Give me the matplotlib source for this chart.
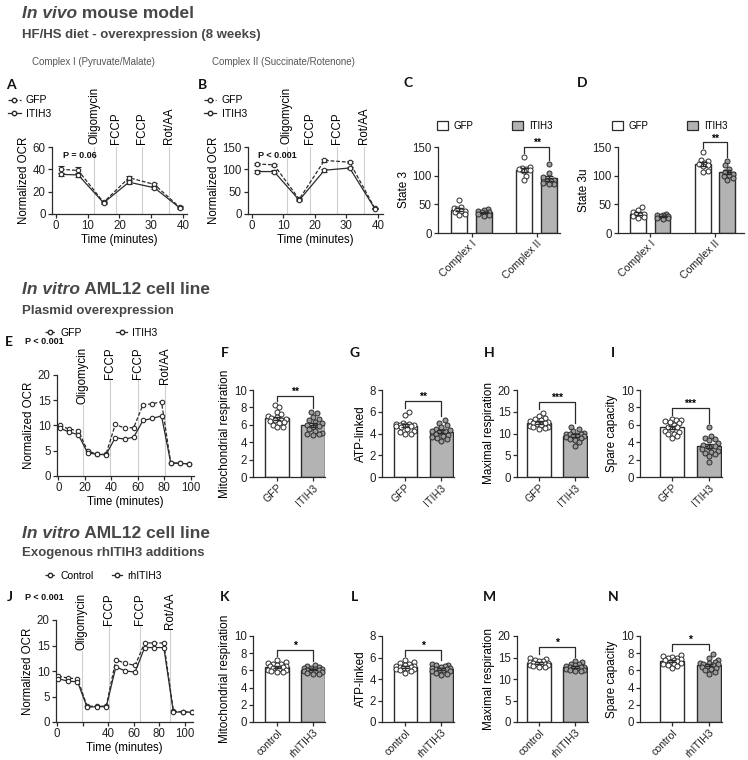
import numpy as np
import matplotlib.pyplot as plt
import matplotlib.transforms as mtransforms
from matplotlib.lines import Line2D
from matplotlib.patches import Patch

plt.rcParams['font.family'] = ['Liberation Sans', 'DejaVu Sans']

# ---------------- data ----------------
# A / B : in vivo OCR traces
t_ab = [1.5, 7, 15, 23, 31, 39]
a_gfp = [40, 39, 10.5, 32.5, 26.5, 6]
a_gfp_err = [3, 3.5, 1, 1.8, 1.5, 0.8]
a_itih3 = [35.5, 35, 10, 28.5, 23.5, 5.5]
a_itih3_err = [1.5, 1.5, 1, 1.2, 1.2, 0.6]
b_gfp = [112, 110, 33, 120, 116, 13]
b_gfp_err = [3, 3, 2, 3, 2, 1]
b_itih3 = [95, 95, 31, 98, 103, 12]
b_itih3_err = [3, 3, 2, 3, 3, 1]
inj_a = [12, 19, 27, 35.5]
inj_b = [11, 18.5, 27, 35.5]
inj_labels = ['Oligomycin', 'FCCP', 'FCCP', 'Rot/AA']

# C / D : state 3 and state 3u
c_ci_gfp = [57, 46, 43, 41, 39, 38, 36, 33, 31]
c_ci_itih3 = [42, 40, 39, 37, 36, 35, 34, 32, 30]
c_cii_gfp = [133, 115, 113, 112, 111, 110, 108, 100, 93]
c_cii_itih3 = [121, 105, 97, 93, 91, 90, 88, 86, 85]
d_ci_gfp = [46, 40, 36, 34, 33, 32, 30, 28, 26]
d_ci_itih3 = [33, 32, 31, 30, 29, 28, 27, 26, 25]
d_cii_gfp = [142, 128, 125, 122, 121, 119, 116, 108, 106]
d_cii_itih3 = [125, 118, 112, 106, 103, 101, 99, 96, 93]
complexes = ['Complex I', 'Complex II']

# E : plasmid overexpression trace
t_e = [1, 8, 15, 22, 29, 36, 43, 50, 57, 64, 71, 78, 85, 92, 99]
e_gfp = [10.0, 9.3, 9.0, 5.0, 4.3, 4.3, 10.2, 9.5, 9.6, 14.1, 14.3, 14.7, 2.6, 2.5, 2.4]
e_itih3 = [9.5, 8.7, 8.2, 4.6, 4.3, 4.2, 7.6, 7.3, 7.7, 11.0, 11.4, 11.9, 2.6, 2.5, 2.4]
inj_e = [18.5, 39, 60, 81]

# F - I
f_gfp = [8.3, 8.0, 7.5, 7.2, 7.0, 6.9, 6.8, 6.7, 6.6, 6.5, 6.4, 6.3, 6.2, 6.0, 5.8, 5.7]
f_itih3 = [7.5, 7.3, 6.9, 6.7, 6.5, 6.3, 6.2, 6.0, 5.9, 5.8, 5.5, 5.3, 5.1, 5.0, 4.9, 4.8]
g_gfp = [6.0, 5.7, 5.0, 4.9, 4.9, 4.8, 4.8, 4.8, 4.7, 4.7, 4.6, 4.4, 4.2, 4.1, 4.0, 4.0]
g_itih3 = [5.2, 5.0, 4.8, 4.6, 4.4, 4.3, 4.2, 4.2, 4.1, 4.0, 3.9, 3.8, 3.7, 3.6, 3.5, 3.3]
h_gfp = [14.8, 14.0, 13.5, 13.3, 13.0, 12.8, 12.7, 12.5, 12.3, 12.2, 12.0, 11.8, 11.6, 11.5, 11.3, 11.1]
h_itih3 = [11.5, 11.0, 10.5, 10.2, 10.0, 9.9, 9.8, 9.6, 9.5, 9.4, 9.2, 9.0, 8.8, 8.6, 8.0, 7.2]
i_gfp = [6.7, 6.6, 6.5, 6.4, 6.3, 6.2, 6.0, 5.8, 5.7, 5.5, 5.3, 5.2, 5.0, 4.9, 4.7, 4.5]
i_itih3 = [5.8, 4.7, 4.5, 4.4, 4.2, 3.9, 3.7, 3.6, 3.5, 3.2, 3.0, 2.9, 2.8, 2.6, 2.4, 1.7]
groups_fi = ['GFP', 'ITIH3']

# J : exogenous rhITIH3 trace
t_j = [1, 8.5, 16, 23.5, 31, 38.5, 46, 53.5, 61, 68.5, 76, 83.5, 91, 98.5, 105.5]
j_ctrl = [9.0, 8.6, 8.5, 3.1, 3.1, 3.1, 12.2, 11.5, 11.1, 15.5, 15.5, 15.5, 2.1, 2.0, 1.9]
j_rh = [8.5, 8.0, 7.9, 2.9, 3.0, 3.0, 10.8, 10.0, 9.8, 14.6, 14.6, 14.6, 1.9, 2.0, 1.9]
inj_j = [19.5, 41, 64.5, 88]

# K - N
k_ctrl = [7.2, 7.0, 6.9, 6.8, 6.7, 6.6, 6.5, 6.5, 6.4, 6.3, 6.2, 6.1, 6.0, 5.9, 5.8, 5.8]
k_rh = [6.6, 6.5, 6.4, 6.3, 6.3, 6.2, 6.2, 6.1, 6.0, 6.0, 5.9, 5.9, 5.8, 5.7, 5.6, 5.6]
l_ctrl = [5.8, 5.6, 5.5, 5.4, 5.3, 5.2, 5.2, 5.1, 5.1, 5.0, 5.0, 4.9, 4.9, 4.8, 4.7, 4.6]
l_rh = [5.4, 5.3, 5.3, 5.2, 5.1, 5.0, 5.0, 4.9, 4.9, 4.8, 4.8, 4.7, 4.7, 4.6, 4.5, 4.4]
m_ctrl = [15.0, 14.7, 14.5, 14.3, 14.1, 14.0, 13.8, 13.7, 13.6, 13.5, 13.4, 13.3, 13.2, 13.0, 12.8, 12.7]
m_rh = [14.3, 14.0, 13.6, 13.4, 13.2, 13.0, 12.9, 12.8, 12.7, 12.6, 12.5, 12.3, 12.2, 12.0, 11.9, 11.8]
n_ctrl = [7.8, 7.7, 7.6, 7.5, 7.4, 7.3, 7.2, 7.2, 7.1, 7.0, 6.9, 6.8, 6.7, 6.6, 6.5, 6.3]
n_rh = [7.9, 7.5, 7.2, 7.0, 6.9, 6.9, 6.8, 6.7, 6.6, 6.5, 6.4, 6.3, 6.2, 6.0, 5.8, 5.6]
groups_kn = ['control', 'rhITIH3']

# ---------------- drawing ----------------
W, H = 748, 760
INK = '#2b2b2b'
GREY = '#b3b3b3'
DOT_GREY = '#9c9c9c'
VL = '#cfcfcf'
HEAD = '#474747'

fig = plt.figure(figsize=(W / 100, H / 100), dpi=100)
renderer = fig.canvas.get_renderer()


def fx(x):
    return x / W


def fy(y):
    return 1 - y / H


def add_ax(l, t, r, b):
    return fig.add_axes([fx(l), fy(b), (r - l) / W, (b - t) / H])


def clean(ax, fs):
    ax.spines[['top', 'right']].set_visible(False)
    ax.spines[['left', 'bottom']].set_color(INK)
    ax.spines[['left', 'bottom']].set_linewidth(0.9)
    ax.tick_params(length=3, width=0.9, color=INK, labelsize=fs, pad=1.5, labelcolor='#222222')


def heading(y, ital, rest, size):
    t1 = fig.text(fx(22), fy(y), ital, fontsize=size, fontweight='bold',
                  fontstyle='italic', color=HEAD, va='center')
    x1 = t1.get_window_extent(renderer).x1
    fig.text(x1 / fig.bbox.width, fy(y), rest, fontsize=size, fontweight='bold', color=HEAD, va='center')


def sub(y, s):
    fig.text(fx(22), fy(y), s, fontsize=9.5, fontweight='bold', color=HEAD, va='center')


def letter(x, y, s):
    fig.text(fx(x), fy(y), s, fontsize=10, fontweight='bold', family=['Lato', 'DejaVu Sans'],
             ha='center', va='center', color='#111111')


def pval(x, y, s):
    fig.text(fx(x), fy(y), s, fontsize=6.5, fontweight='bold', va='center', color='#111111')


def trace_panel(box, t, s1, s2, e1, e2, xlim, ylim, yticks, xticks, xticklabels, inj, label_top=None):
    ax = add_ax(*box)
    clean(ax, 8.3)
    ax.set_xlim(xlim)
    ax.set_ylim(ylim)
    ax.set_xticks(xticks)
    ax.set_xticklabels(xticklabels)
    ax.set_yticks(yticks)
    ax.set_ylabel('Normalized OCR', fontsize=8.3, labelpad=2)
    ax.set_xlabel('Time (minutes)', fontsize=8.3, labelpad=1)
    for x, lab in zip(inj, inj_labels):
        if label_top is None:
            ax.axvline(x, color=VL, lw=0.8, zorder=0)
            tr = mtransforms.offset_copy(ax.get_xaxis_transform(), fig=fig, y=3, units='dots')
            ax.text(x, 1, lab, transform=tr, rotation=90, ha='center', va='bottom', fontsize=8.3)
        else:
            ax.vlines(x, 0, label_top, color=VL, lw=0.8, zorder=0, clip_on=False)
            ax.text(x, label_top, lab, rotation=90, ha='center', va='top', fontsize=8.3, zorder=5,
                    bbox=dict(fc='white', ec='none', pad=0.5))
    for s, e, ls in [(s1, e1, (0, (3, 1.5))), (s2, e2, '-')]:
        ax.plot(t, s, ls=ls, color=INK, lw=0.9, marker='o', ms=3.2, mfc='white', mec=INK, mew=0.8, zorder=3)
        if e is not None:
            ax.errorbar(t, s, yerr=e, fmt='none', ecolor=INK, elinewidth=0.8, capsize=2,
                        capthick=0.8, zorder=2)
    return ax


def swarm(vals, px_x, px_y, half, d=4.6):
    # horizontal offsets (data units) so that dots overlap little, kept inside +-half px
    vals = np.asarray(vals, float)
    offs = np.zeros(len(vals))
    step = d * 0.4
    cands = [0.0]
    for k in range(1, int(half // step) + 1):
        cands += [k * step, -k * step]
    done = []
    for i in np.argsort(vals):
        y = vals[i] * px_y
        best, best_gap = 0.0, -1.0
        for c in cands:
            gap = min([np.hypot(c - a, y - b) for a, b in done] or [99.0])
            if gap >= d * 0.95:
                best = c
                break
            if gap > best_gap:
                best, best_gap = c, gap
        done.append((best, y))
        offs[i] = best / px_x
    return offs


def bar_panel(box, xs, sets, fills, xlim, ymax, yticks, ylabel, xticks, xticklabels, bw, sig):
    ax = add_ax(*box)
    clean(ax, 8.3)
    ax.set_xlim(xlim)
    ax.set_ylim(0, ymax)
    ax.set_yticks(yticks)
    ax.set_xticks(xticks)
    ax.set_xticklabels(xticklabels, rotation=45, ha='right', rotation_mode='anchor', fontsize=7.6)
    ax.tick_params(axis='x', pad=1)
    ax.set_ylabel(ylabel, fontsize=8.5, labelpad=2)
    l, t, r, b = box
    px_x = (r - l) / (xlim[1] - xlim[0])
    px_y = (b - t) / ymax
    half = bw * px_x / 2 - 2.0
    for x, vals, fc in zip(xs, sets, fills):
        vals = np.asarray(vals, float)
        m = vals.mean()
        se = vals.std(ddof=1) / np.sqrt(len(vals))
        ax.bar(x, m, width=bw, color=fc, edgecolor=INK, linewidth=1.0, zorder=1)
        dot = 'white' if fc == 'white' else DOT_GREY
        ax.scatter(x + swarm(vals, px_x, px_y, half), vals, s=13, facecolor=dot, edgecolor=INK,
                   linewidth=0.7, zorder=2, clip_on=False)
        ax.errorbar(x, m, yerr=se, fmt='none', ecolor=INK, elinewidth=1, capsize=3, capthick=1, zorder=3)
    (i0, i1), y, stars = sig
    gap = 4 / px_y
    y0 = max(sets[i0]) + gap
    y1 = max(sets[i1]) + gap
    ax.plot([xs[i0], xs[i0], xs[i1], xs[i1]], [y0, y, y, y1], color=INK, lw=0.9, clip_on=False)
    ax.text((xs[i0] + xs[i1]) / 2, y + 1 / px_y, stars, ha='center', va='baseline', fontsize=7.5,
            fontweight='bold', clip_on=False)
    return ax


def line_handles():
    return [Line2D([0], [0], color=INK, ls=(0, (3, 1.5)), lw=0.9, marker='o', ms=3.2, mfc='white', mec=INK),
            Line2D([0], [0], color=INK, ls='-', lw=0.9, marker='o', ms=3.2, mfc='white', mec=INK)]


# ----- section 1 -----
heading(13, 'In vivo', ' mouse model', 12.5)
sub(35, 'HF/HS diet - overexpression (8 weeks)')
fig.text(fx(32), fy(62), 'Complex I (Pyruvate/Malate)', fontsize=7, color='#555555', va='center')
fig.text(fx(212), fy(62), 'Complex II (Succinate/Rotenone)', fontsize=7, color='#555555', va='center')

letter(11, 85, 'A')
letter(202, 85, 'B')
letter(408, 83, 'C')
letter(582, 83, 'D')

trace_panel((52, 147, 187, 214), t_ab, a_gfp, a_itih3, a_gfp_err, a_itih3_err, (-1.26, 41.3), (0, 60),
            [0, 20, 40, 60], [0, 10, 20, 30, 40], ['0', '10', '20', '30', '40'], inj_a)
pval(63, 155, 'P = 0.06')
fig.legend(line_handles(), ['GFP', 'ITIH3'], loc='center left', bbox_to_anchor=(fx(8), fy(107)),
           frameon=False, fontsize=7.5, handlelength=1.2, handletextpad=0.5, labelspacing=0.3,
           borderpad=0, borderaxespad=0)

trace_panel((248, 147, 383, 214), t_ab, b_gfp, b_itih3, b_gfp_err, b_itih3_err, (-1.27, 41.6), (0, 150),
            [0, 50, 100, 150], [0, 10, 20, 30, 40], ['0', '10', '20', '30', '40'], inj_b)
pval(258, 155, 'P < 0.001')
fig.legend(line_handles(), ['GFP', 'ITIH3'], loc='center left', bbox_to_anchor=(fx(204), fy(107)),
           frameon=False, fontsize=7.5, handlelength=1.2, handletextpad=0.5, labelspacing=0.3,
           borderpad=0, borderaxespad=0)

fills4 = ['white', GREY, 'white', GREY]
bar_panel((438, 147, 560, 233), [-0.19, 0.19, 0.81, 1.19], [c_ci_gfp, c_ci_itih3, c_cii_gfp, c_cii_itih3],
          fills4, (-0.515, 1.36), 150, [0, 50, 100, 150], 'State 3', [0, 1], complexes, 0.245,
          ((2, 3), 150, '**'))
bar_panel((618, 147, 744, 233), [-0.19, 0.19, 0.81, 1.19], [d_ci_gfp, d_ci_itih3, d_cii_gfp, d_cii_itih3],
          fills4, (-0.5, 1.45), 150, [0, 50, 100, 150], 'State 3u', [0, 1], complexes, 0.245,
          ((2, 3), 158, '**'))
patch_h = [Patch(fc='white', ec=INK, lw=0.9), Patch(fc=GREY, ec=INK, lw=0.9)]
for lx in (437, 612):
    fig.legend(patch_h, ['GFP', 'ITIH3'], loc='center left', bbox_to_anchor=(fx(lx), fy(126)), ncol=2,
               frameon=False, fontsize=7, handlelength=1.1, handleheight=1.1, handletextpad=0.6,
               columnspacing=4.0, borderpad=0, borderaxespad=0)

# ----- section 2 -----
heading(289, 'In vitro', ' AML12 cell line', 12.5)
sub(311, 'Plasmid overexpression')
fig.legend(line_handles(), ['GFP', 'ITIH3'], loc='center left', bbox_to_anchor=(fx(45), fy(333)), ncol=2,
           frameon=False, fontsize=7.5, handlelength=1.0, handletextpad=0.5, columnspacing=3.3,
           borderpad=0, borderaxespad=0)
letter(9, 342, 'E')
pval(25, 342, 'P < 0.001')
trace_panel((57, 375, 194, 476), t_e, e_gfp, e_itih3, None, None, (-1.1, 102.6), (0, 20),
            [0, 5, 10, 15, 20], [0, 20, 40, 60, 80, 100], ['0', '20', '40', '60', '80', '100'], inj_e,
            label_top=25.5)

for x, s in zip([225, 355, 489, 613], 'FGHI'):
    letter(x, 353, s)
wg = ['white', GREY]
bar_panel((253, 390, 325, 477), [0, 1], [f_gfp, f_itih3], wg, (-0.667, 1.333), 10, [0, 2, 4, 6, 8, 10],
          'Mitochondrial respiration', [0, 1], groups_fi, 0.64, ((0, 1), 9.3, '**'))
bar_panel((382, 390, 454, 477), [0, 1], [g_gfp, g_itih3], wg, (-0.64, 1.36), 8, [0, 2, 4, 6, 8],
          'ATP-linked', [0, 1], groups_fi, 0.64, ((0, 1), 7.0, '**'))
bar_panel((517, 390, 588, 477), [0, 1], [h_gfp, h_itih3], wg, (-0.61, 1.36), 20, [0, 5, 10, 15, 20],
          'Maximal respiration', [0, 1], groups_fi, 0.64, ((0, 1), 17.2, '***'))
bar_panel((640, 390, 722, 477), [0, 1], [i_gfp, i_itih3], wg, (-0.86, 1.35), 10, [0, 2, 4, 6, 8, 10],
          'Spare capacity', [0, 1], groups_fi, 0.64, ((0, 1), 7.9, '***'))

# ----- section 3 -----
heading(534, 'In vitro', ' AML12 cell line', 12.5)
sub(553, 'Exogenous rhITIH3 additions')
fig.legend(line_handles(), ['Control', 'rhITIH3'], loc='center left', bbox_to_anchor=(fx(45), fy(576)),
           ncol=2, frameon=False, fontsize=7.5, handlelength=1.0, handletextpad=0.5, columnspacing=1.7,
           borderpad=0, borderaxespad=0)
letter(10, 597, 'J')
pval(25, 597, 'P < 0.001')
trace_panel((56, 620, 193, 722), t_j, j_ctrl, j_rh, None, None, (-0.8, 106.3), (0, 20),
            [0, 5, 10, 15, 20], [0, 20, 40, 60, 80, 100], ['0', '', '40', '60', '80', '100'], inj_j,
            label_top=25.3)

for x, s in zip([225, 355, 489, 613], 'KLMN'):
    letter(x, 597, s)
bar_panel((253, 636, 325, 722), [0, 1], [k_ctrl, k_rh], wg, (-0.667, 1.333), 10, [0, 2, 4, 6, 8, 10],
          'Mitochondrial respiration', [0, 1], groups_kn, 0.64, ((0, 1), 8.4, '*'))
bar_panel((382, 636, 454, 722), [0, 1], [l_ctrl, l_rh], wg, (-0.64, 1.36), 8, [0, 2, 4, 6, 8],
          'ATP-linked', [0, 1], groups_kn, 0.64, ((0, 1), 6.7, '*'))
bar_panel((517, 636, 588, 722), [0, 1], [m_ctrl, m_rh], wg, (-0.61, 1.36), 20, [0, 5, 10, 15, 20],
          'Maximal respiration', [0, 1], groups_kn, 0.64, ((0, 1), 17.5, '*'))
bar_panel((640, 636, 722, 722), [0, 1], [n_ctrl, n_rh], wg, (-0.86, 1.35), 10, [0, 2, 4, 6, 8, 10],
          'Spare capacity', [0, 1], groups_kn, 0.64, ((0, 1), 9.1, '*'))

fig.savefig('out.png', dpi=100)
